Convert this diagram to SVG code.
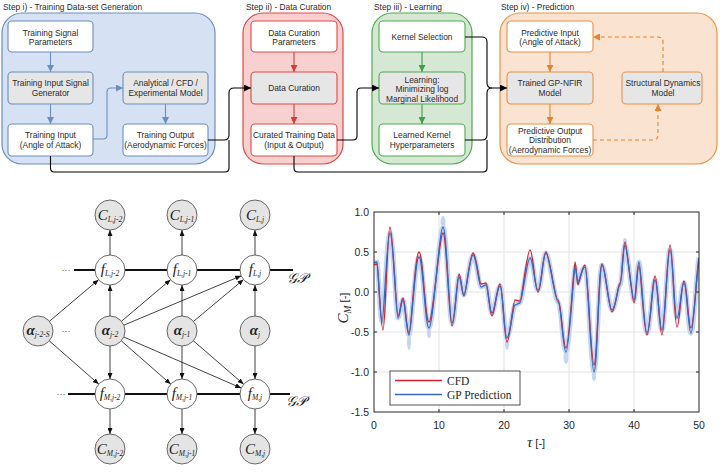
<svg xmlns="http://www.w3.org/2000/svg" width="720" height="474" viewBox="0 0 720 474">
<style>
.t{font-family:"Liberation Sans",Arial,sans-serif;font-size:8.4px;fill:#2a2a2a;text-anchor:middle}
.st{font-family:"Liberation Sans",Arial,sans-serif;font-size:8.4px;fill:#2a2a2a}
.wb{fill:#fff;stroke-width:1.1}
.gb{fill:#e6e6e6;stroke-width:1.1}
.nd{stroke:#444;stroke-width:0.8}
.gf{fill:#e4e4e4}
.wf{fill:#fff}
.m{font-family:"Liberation Serif","Times New Roman",serif;fill:#222;text-anchor:middle}
.big{font-size:15px;font-style:italic}
.sub{font-size:7.5px;font-style:italic}
.ed{stroke:#111;stroke-width:0.8;fill:none;marker-end:url(#ak)}
.tk{font-family:"Liberation Sans",Arial,sans-serif;font-size:10.5px;fill:#262626}
</style>
<defs>
<marker id="ab" viewBox="0 0 10 10" refX="10" refY="5" markerWidth="7" markerHeight="7" markerUnits="userSpaceOnUse" orient="auto"><path d="M0,0L10,5L0,10z" fill="#6c8ebf"/></marker>
<marker id="ar" viewBox="0 0 10 10" refX="10" refY="5" markerWidth="7" markerHeight="7" markerUnits="userSpaceOnUse" orient="auto"><path d="M0,0L10,5L0,10z" fill="#d93a3a"/></marker>
<marker id="ag" viewBox="0 0 10 10" refX="10" refY="5" markerWidth="7" markerHeight="7" markerUnits="userSpaceOnUse" orient="auto"><path d="M0,0L10,5L0,10z" fill="#3f9e4a"/></marker>
<marker id="ao" viewBox="0 0 10 10" refX="10" refY="5" markerWidth="7" markerHeight="7" markerUnits="userSpaceOnUse" orient="auto"><path d="M0,0L10,5L0,10z" fill="#e5822f"/></marker>
<marker id="abl" viewBox="0 0 10 10" refX="10" refY="5" markerWidth="7" markerHeight="7" markerUnits="userSpaceOnUse" orient="auto"><path d="M0,0L10,5L0,10z" fill="#000"/></marker>
<marker id="ak" viewBox="0 0 12 10" refX="12" refY="5" markerWidth="6" markerHeight="5" markerUnits="userSpaceOnUse" orient="auto"><path d="M0,0L12,5L0,10z" fill="#111"/></marker>
<clipPath id="pc"><rect x="374" y="212" width="325" height="200"/></clipPath>
</defs>
<rect width="720" height="474" fill="#fff"/>

<!-- Step i -->
<g id="step1">
<text class="st" x="3" y="9.5">Step i) - Training Data-set Generation</text>
<rect x="2" y="13" width="213" height="151" rx="20" fill="#d6e2f3" stroke="#6c8ebf" stroke-width="1.2"/>
</g>
<g id="n-tsp"><rect class="wb" x="8" y="21" width="85" height="31" rx="4" stroke="#6c8ebf"/><text class="t" x="50.5" y="35.5">Training Signal</text><text class="t" x="50.5" y="45">Parameters</text></g>
<g id="n-tisg"><rect class="gb" x="8" y="72" width="85" height="32" rx="4" stroke="#6c8ebf"/><text class="t" x="50.5" y="86">Training Input Signal</text><text class="t" x="50.5" y="95.5">Generator</text></g>
<g id="n-ti"><rect class="wb" x="8" y="124" width="85" height="32" rx="4" stroke="#6c8ebf"/><text class="t" x="50.5" y="138">Training Input</text><text class="t" x="50.5" y="147.5">(Angle of Attack)</text></g>
<g id="n-acem"><rect class="gb" x="123" y="72" width="85" height="32" rx="4" stroke="#6c8ebf"/><text class="t" x="165.5" y="86">Analytical / CFD /</text><text class="t" x="165.5" y="95.5">Experimental Model</text></g>
<g id="n-to"><rect class="wb" x="123" y="124" width="85" height="32" rx="4" stroke="#6c8ebf"/><text class="t" x="165.5" y="138">Training Output</text><text class="t" x="165.5" y="147.5">(Aerodynamic Forces)</text></g>

<!-- Step ii -->
<g id="step2">
<text class="st" x="246" y="9.5">Step ii) - Data Curation</text>
<rect x="243" y="13" width="100" height="151" rx="20" fill="#f8d0cf" stroke="#e04848" stroke-width="1.2"/>
</g>
<g id="n-dcp"><rect class="wb" x="251" y="21" width="86" height="31" rx="4" stroke="#e04848"/><text class="t" x="294" y="35.5">Data Curation</text><text class="t" x="294" y="45">Parameters</text></g>
<g id="n-dc"><rect class="gb" x="251" y="72" width="86" height="32" rx="4" stroke="#e04848"/><text class="t" x="294" y="91">Data Curation</text></g>
<g id="n-ctd"><rect class="wb" x="251" y="124" width="86" height="32" rx="4" stroke="#e04848"/><text class="t" x="294" y="138">Curated Training Data</text><text class="t" x="294" y="147.5">(Input &amp; Output)</text></g>

<!-- Step iii -->
<g id="step3">
<text class="st" x="374" y="9.5">Step iii) - Learning</text>
<rect x="372" y="13" width="100" height="151" rx="20" fill="#d5e8d4" stroke="#52a852" stroke-width="1.2"/>
</g>
<g id="n-ks"><rect class="wb" x="379" y="21" width="86" height="31" rx="4" stroke="#52a852"/><text class="t" x="422" y="40">Kernel Selection</text></g>
<g id="n-lrn"><rect class="gb" x="379" y="72" width="86" height="32" rx="4" stroke="#52a852"/><text class="t" x="422" y="82.5">Learning:</text><text class="t" x="422" y="92">Minimizing log</text><text class="t" x="422" y="101.5">Marginal Likelihood</text></g>
<g id="n-lkh"><rect class="wb" x="379" y="124" width="86" height="32" rx="4" stroke="#52a852"/><text class="t" x="422" y="138">Learned Kernel</text><text class="t" x="422" y="147.5">Hyperparameters</text></g>

<!-- Step iv -->
<g id="step4">
<text class="st" x="501" y="9.5">Step iv) - Prediction</text>
<rect x="500" y="13" width="217" height="151" rx="20" fill="#fbe3d2" stroke="#e8934a" stroke-width="1.2"/>
</g>
<g id="n-pi"><rect class="wb" x="507" y="21" width="86" height="31" rx="4" stroke="#e8934a"/><text class="t" x="550" y="35.5">Predictive Input</text><text class="t" x="550" y="45">(Angle of Attack)</text></g>
<g id="n-gp"><rect class="gb" x="507" y="72" width="86" height="32" rx="4" stroke="#e8934a"/><text class="t" x="550" y="86">Trained GP-NFIR</text><text class="t" x="550" y="95.5">Model</text></g>
<g id="n-pod"><rect class="wb" x="507" y="124" width="86" height="32" rx="4" stroke="#e8934a"/><text class="t" x="550" y="133.5">Predictive Output</text><text class="t" x="550" y="143">Distribution</text><text class="t" x="550" y="152.5">(Aerodynamic Forces)</text></g>
<g id="n-sdm"><rect class="gb" x="622" y="72" width="80" height="32" rx="4" stroke="#e8934a"/><text class="t" x="663" y="86">Structural Dynamics</text><text class="t" x="663" y="95.5">Model</text></g>

<!-- flow connectors -->
<g id="flow-connectors" fill="none" stroke-width="1.1">
<path d="M50.5,52V72" stroke="#6c8ebf" marker-end="url(#ab)"/>
<path d="M50.5,104V124" stroke="#6c8ebf" marker-end="url(#ab)"/>
<path d="M165.5,104V124" stroke="#6c8ebf" marker-end="url(#ab)"/>
<path d="M93,139H103Q107,139 107,135V92Q107,88 111,88H123" stroke="#6c8ebf" marker-end="url(#ab)"/>
<path d="M294,52V72" stroke="#d93a3a" marker-end="url(#ar)"/>
<path d="M294,104V124" stroke="#d93a3a" marker-end="url(#ar)"/>
<path d="M422,52V72" stroke="#3f9e4a" marker-end="url(#ag)"/>
<path d="M422,104V124" stroke="#3f9e4a" marker-end="url(#ag)"/>
<path d="M550,52V72" stroke="#e5822f" marker-end="url(#ao)"/>
<path d="M550,104V124" stroke="#e5822f" marker-end="url(#ao)"/>
<path d="M593,140H653Q658,140 658,135V104" stroke="#e5822f" stroke-dasharray="4,3" marker-end="url(#ao)"/>
<path d="M663,72V42Q663,37 658,37H593" stroke="#e5822f" stroke-dasharray="4,3" marker-end="url(#ao)"/>
<path d="M208,140H224Q229,140 229,135V93Q229,88 234,88H251" stroke="#000" marker-end="url(#abl)"/>
<path d="M50.5,156V168Q50.5,172 54.5,172H225Q229,172 229,168V140" stroke="#000"/>
<path d="M337,140H353Q357,140 357,136V92Q357,88 361,88H379" stroke="#000" marker-end="url(#abl)"/>
<path d="M465,37H482Q487,37 487,42V83Q487,88 492,88H507" stroke="#000" marker-end="url(#abl)"/>
<path d="M465,140H482Q487,140 487,135V93Q487,88 492,88" stroke="#000"/>
<path d="M294,156V168Q294,172 298,172H483Q487,172 487,168V140" stroke="#000"/>
</g>

<!-- Graphical model -->
<g id="gp-lines" stroke="#111" stroke-width="1.8">
<line x1="74" y1="270" x2="293" y2="270"/>
<line x1="68" y1="394" x2="290" y2="394"/>
</g>
<g id="graph-edges">
<path class="ed" d="M110,255V230"/>
<path class="ed" d="M182,255V230"/>
<path class="ed" d="M255,255V230"/>
<path class="ed" d="M110,409V434"/>
<path class="ed" d="M182,409V434"/>
<path class="ed" d="M255,409V434"/>
<path class="ed" d="M110,316V285"/>
<path class="ed" d="M182,316V285"/>
<path class="ed" d="M255,316V285"/>
<path class="ed" d="M110,346V379"/>
<path class="ed" d="M182,346V379"/>
<path class="ed" d="M255,346V379"/>
<path class="ed" d="M49.4,321.3L98.6,279.7"/>
<path class="ed" d="M49.3,340.9L98.7,384.1"/>
<path class="ed" d="M121.4,321.3L170.6,279.7"/>
<path class="ed" d="M123.8,325.2L241.2,275.8"/>
<path class="ed" d="M121.3,340.9L170.7,384.1"/>
<path class="ed" d="M123.8,337L241.2,388"/>
<path class="ed" d="M193.5,321.4L243.5,279.6"/>
<path class="ed" d="M193.4,340.8L243.6,384.2"/>
</g>
<g id="dots" class="m" font-size="9">
<text x="66" y="272.7">···</text>
<text x="61" y="396.7">···</text>
<text x="66" y="333.7">···</text>
</g>
<g id="gp-labels" class="m" font-size="14" font-style="italic">
<text x="297" y="283">𝒢𝒫</text>
<text x="296" y="406">𝒢𝒫</text>
</g>

<g id="c-l-j2"><circle class="nd gf" cx="110" cy="215" r="15"/><text class="m" x="110" y="220"><tspan class="big">C</tspan><tspan class="sub" dy="2">L,j-2</tspan></text></g>
<g id="c-l-j1"><circle class="nd gf" cx="182" cy="215" r="15"/><text class="m" x="182" y="220"><tspan class="big">C</tspan><tspan class="sub" dy="2">L,j-1</tspan></text></g>
<g id="c-l-j"><circle class="nd gf" cx="255" cy="215" r="15"/><text class="m" x="255" y="220"><tspan class="big">C</tspan><tspan class="sub" dy="2">L,j</tspan></text></g>
<g id="f-l-j2"><circle class="nd wf" cx="110" cy="270" r="15"/><text class="m" x="110" y="274"><tspan class="big">f</tspan><tspan class="sub" dy="2">L,j-2</tspan></text></g>
<g id="f-l-j1"><circle class="nd wf" cx="182" cy="270" r="15"/><text class="m" x="182" y="274"><tspan class="big">f</tspan><tspan class="sub" dy="2">L,j-1</tspan></text></g>
<g id="f-l-j"><circle class="nd wf" cx="255" cy="270" r="15"/><text class="m" x="255" y="274"><tspan class="big">f</tspan><tspan class="sub" dy="2">L,j</tspan></text></g>
<g id="a-j2s"><circle class="nd gf" cx="38" cy="331" r="15"/><text class="m" x="38" y="335"><tspan class="big" font-weight="bold">α</tspan><tspan class="sub" dy="2">j-2-S</tspan></text></g>
<g id="a-j2"><circle class="nd gf" cx="110" cy="331" r="15"/><text class="m" x="110" y="335"><tspan class="big" font-weight="bold">α</tspan><tspan class="sub" dy="2">j-2</tspan></text></g>
<g id="a-j1"><circle class="nd gf" cx="182" cy="331" r="15"/><text class="m" x="182" y="335"><tspan class="big" font-weight="bold">α</tspan><tspan class="sub" dy="2">j-1</tspan></text></g>
<g id="a-j"><circle class="nd gf" cx="255" cy="331" r="15"/><text class="m" x="255" y="335"><tspan class="big" font-weight="bold">α</tspan><tspan class="sub" dy="2">j</tspan></text></g>
<g id="f-m-j2"><circle class="nd wf" cx="110" cy="394" r="15"/><text class="m" x="110" y="398"><tspan class="big">f</tspan><tspan class="sub" dy="2">M,j-2</tspan></text></g>
<g id="f-m-j1"><circle class="nd wf" cx="182" cy="394" r="15"/><text class="m" x="182" y="398"><tspan class="big">f</tspan><tspan class="sub" dy="2">M,j-1</tspan></text></g>
<g id="f-m-j"><circle class="nd wf" cx="255" cy="394" r="15"/><text class="m" x="255" y="398"><tspan class="big">f</tspan><tspan class="sub" dy="2">M,j</tspan></text></g>
<g id="c-m-j2"><circle class="nd gf" cx="110" cy="449" r="15"/><text class="m" x="110" y="454"><tspan class="big">C</tspan><tspan class="sub" dy="2">M,j-2</tspan></text></g>
<g id="c-m-j1"><circle class="nd gf" cx="182" cy="449" r="15"/><text class="m" x="182" y="454"><tspan class="big">C</tspan><tspan class="sub" dy="2">M,j-1</tspan></text></g>
<g id="c-m-j"><circle class="nd gf" cx="255" cy="449" r="15"/><text class="m" x="255" y="454"><tspan class="big">C</tspan><tspan class="sub" dy="2">M,j</tspan></text></g>

<!-- Plot -->
<g id="plot">
<rect x="374" y="212" width="325" height="200" fill="#fff"/>
<g stroke="#e3e3e3" stroke-width="1">
<path d="M439,212V412M504,212V412M569,212V412M634,212V412M374,252H699M374,292H699M374,332H699M374,372H699"/>
</g>
<g clip-path="url(#pc)">
<path d="M374,263 S375.8,262 377,262 S380,322 382,322 S386.8,233 390,233 S396,318 398,318 S401,300 403,300 S406.6,335 409,335 S415,257 419,257 S425,328 429,328 S439.4,227 443,227 S449.2,323 452,323 S457,277 459,277 S462,295 464,295 S469.8,255 473,255 S479,287 481,287 S484,285 486,285 S489.6,313 492,313 S497.2,286 500,286 S504.2,338 507,338 S513,305 515,305 S518,303 520,303 S526.8,258 530,258 S534.8,290 538,290 S542.8,253 546,253 S554.8,302 558,302 S562.8,352 566,352 S573.8,267 575,267 S576.8,282 578,282 S582.2,267 585,267 S590.8,372 594,372 S598.8,265 602,265 S608.8,310 612,310 S618,285 620,285 S623,245 625,245 S632,300 634,300 S637,262 639,262 S643.8,333 647,333 S652.2,280 655,280 S659.2,330 662,330 S667.2,250 670,250 S674.2,318 677,318 S681.2,283 684,283 S688.2,333 691,333 S697,262 699,258" fill="none" stroke="#c6d6ee" stroke-width="5" stroke-linejoin="round"/>
<g fill="#c6d6ee">
<ellipse cx="409" cy="342" rx="2" ry="8"/>
<ellipse cx="443" cy="222" rx="2.5" ry="6"/>
<ellipse cx="429" cy="333" rx="2" ry="5"/>
<ellipse cx="507" cy="344" rx="2" ry="6"/>
<ellipse cx="566" cy="357" rx="2.5" ry="7"/>
<ellipse cx="594" cy="376" rx="2" ry="5"/>
<ellipse cx="625" cy="242" rx="2" ry="4"/>
</g>
<path d="M374,265 S375.8,264 377,264 S380.6,330 383,330 S387.2,227 390,227 S396,316 398,316 S401,298 403,298 S406.6,333 409,333 S415,252 419,252 S425,322 429,322 S439.4,233 443,233 S449.2,326 452,326 S457,274 459,274 S462,296 464,296 S469.8,253 473,253 S479,284 481,284 S484,283 486,283 S489.6,316 492,316 S497.2,284 500,284 S504.2,342 507,342 S513,300 515,300 S518,301 520,301 S526.8,250 530,250 S534.8,292 538,292 S542.8,252 546,252 S554.8,300 558,300 S562.8,348 566,348 S573.8,262 575,262 S576.8,285 578,285 S582.2,265 585,265 S590.8,365 594,365 S598.8,264 602,264 S608.8,312 612,312 S618,283 620,283 S623,242 625,242 S632,303 634,303 S637,266 639,266 S643.8,335 647,335 S652.2,276 655,276 S659.2,335 662,335 S667.2,245 670,245 S674.2,327 677,327 S681.2,281 684,281 S688.2,328 691,328 S697,266 699,262" fill="none" stroke="#dc1f2b" stroke-width="1.3"/>
<path d="M374,263 S375.8,262 377,262 S380,322 382,322 S386.8,233 390,233 S396,318 398,318 S401,300 403,300 S406.6,335 409,335 S415,257 419,257 S425,328 429,328 S439.4,227 443,227 S449.2,323 452,323 S457,277 459,277 S462,295 464,295 S469.8,255 473,255 S479,287 481,287 S484,285 486,285 S489.6,313 492,313 S497.2,286 500,286 S504.2,338 507,338 S513,305 515,305 S518,303 520,303 S526.8,258 530,258 S534.8,290 538,290 S542.8,253 546,253 S554.8,302 558,302 S562.8,352 566,352 S573.8,267 575,267 S576.8,282 578,282 S582.2,267 585,267 S590.8,372 594,372 S598.8,265 602,265 S608.8,310 612,310 S618,285 620,285 S623,245 625,245 S632,300 634,300 S637,262 639,262 S643.8,333 647,333 S652.2,280 655,280 S659.2,330 662,330 S667.2,250 670,250 S674.2,318 677,318 S681.2,283 684,283 S688.2,333 691,333 S697,262 699,258" fill="none" stroke="#3a67bf" stroke-width="1.3"/>
</g>
<rect x="374" y="212" width="325" height="200" fill="none" stroke="#262626" stroke-width="1"/>
<path d="M439,212v3M504,212v3M569,212v3M634,212v3M439,412v-3M504,412v-3M569,412v-3M634,412v-3M374,252h3M374,292h3M374,332h3M374,372h3M699,252h-3M699,292h-3M699,332h-3M699,372h-3" stroke="#262626" stroke-width="1"/>
<g class="tk" text-anchor="end">
<text x="369" y="216">1.0</text>
<text x="369" y="256">0.5</text>
<text x="369" y="296">0.0</text>
<text x="369" y="336">-0.5</text>
<text x="369" y="376">-1.0</text>
<text x="369" y="416">-1.5</text>
</g>
<g class="tk" text-anchor="middle">
<text x="374" y="429">0</text>
<text x="439" y="429">10</text>
<text x="504" y="429">20</text>
<text x="569" y="429">30</text>
<text x="634" y="429">40</text>
<text x="699" y="429">50</text>
</g>
<text transform="translate(348,308) rotate(-90)" text-anchor="middle" fill="#262626"><tspan font-family="Liberation Serif,serif" font-style="italic" font-size="15">C</tspan><tspan font-family="Liberation Serif,serif" font-style="italic" font-size="9.5" dy="3">M</tspan><tspan font-family="Liberation Sans,sans-serif" font-size="11" dy="-3">  [-]</tspan></text>
<text x="536" y="447" text-anchor="middle" fill="#262626"><tspan font-family="Liberation Serif,serif" font-style="italic" font-size="15">τ</tspan><tspan font-family="Liberation Sans,sans-serif" font-size="11">  [-]</tspan></text>
<g id="legend">
<rect x="390" y="371" width="130" height="34" fill="#fff" stroke="#262626" stroke-width="0.8"/>
<line x1="395" y1="380.5" x2="442" y2="380.5" stroke="#dc1f2b" stroke-width="1.3"/>
<line x1="395" y1="394.5" x2="442" y2="394.5" stroke="#3a67bf" stroke-width="1.3"/>
<text x="447" y="384.5" font-family="Liberation Serif,serif" font-size="11.5" fill="#262626">CFD</text>
<text x="447" y="398.5" font-family="Liberation Serif,serif" font-size="11.5" fill="#262626">GP Prediction</text>
</g>
</g>
</svg>
